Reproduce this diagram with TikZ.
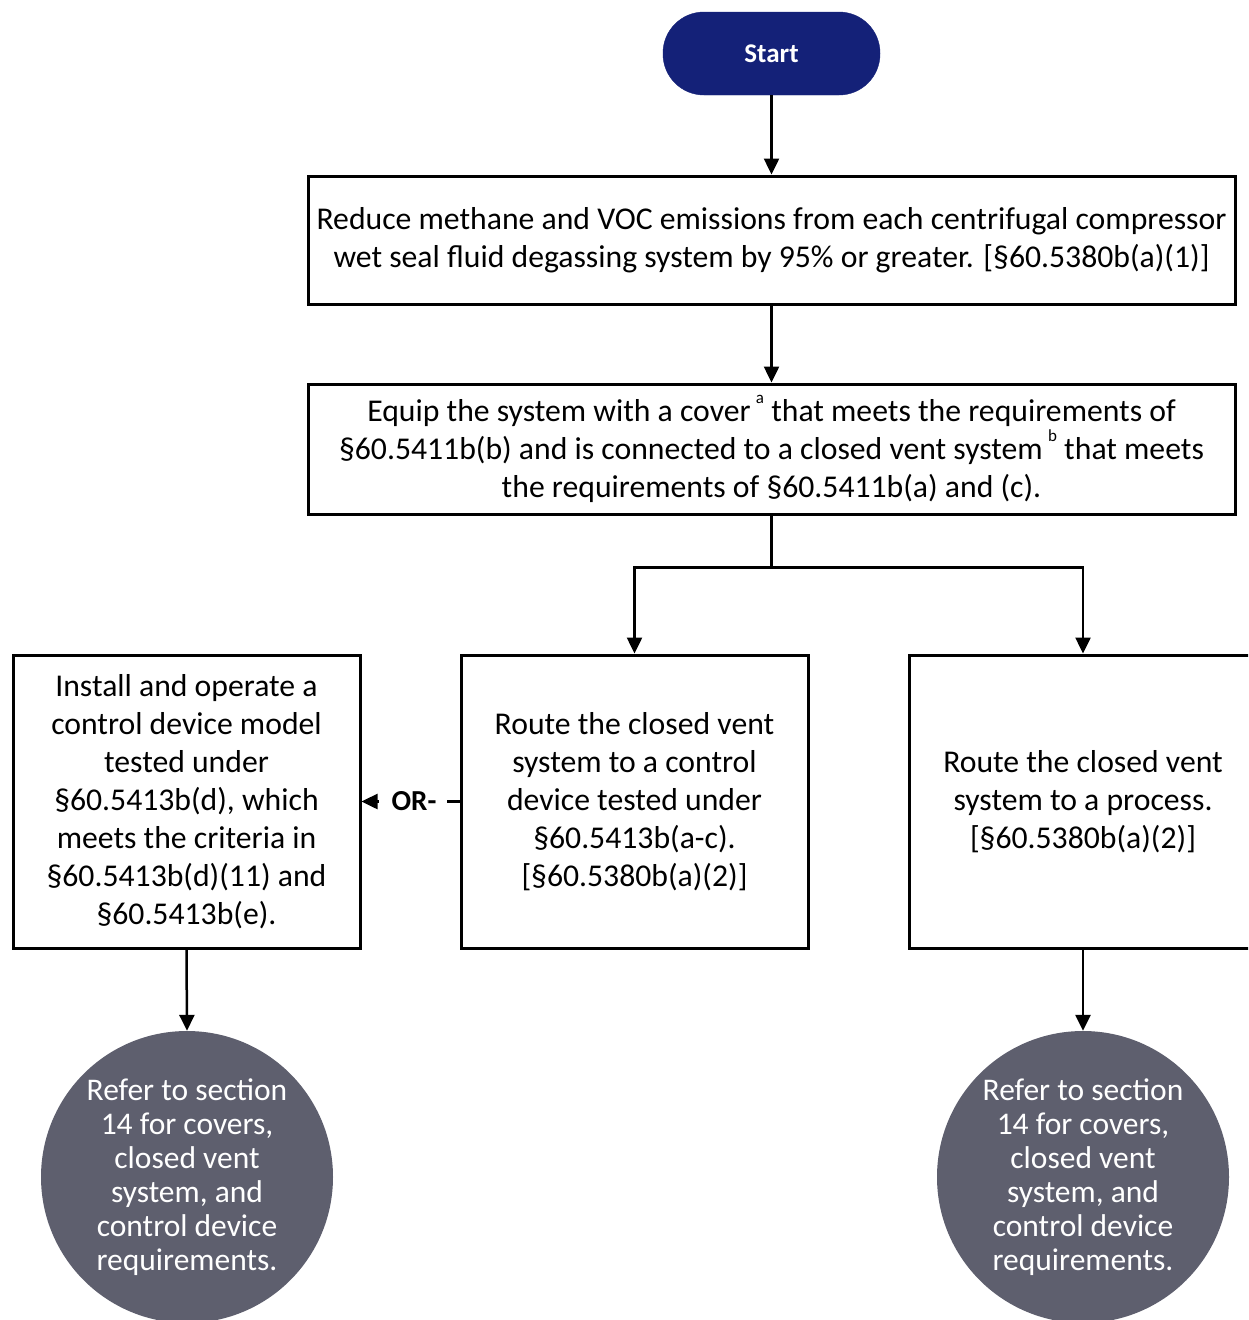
\documentclass[tikz,border=0pt]{standalone}
\usepackage{fontspec}
\setmainfont{Carlito}
\usetikzlibrary{arrows.meta}
\definecolor{navy}{RGB}{20,33,120}
\definecolor{slate}{RGB}{94,95,110}
\newcommand{\noteref}[1]{\,\raisebox{0.55em}{\fontsize{17}{17}\selectfont #1}}
\tikzset{
  startbox/.style={draw=navy, fill=navy, text=white, rounded corners=41pt,
    minimum width=217pt, minimum height=83pt, font=\fontsize{27}{32}\selectfont\bfseries},
  stepbox/.style={draw=black, line width=3pt, fill=white, align=center,
    inner sep=0pt, font=\fontsize{31.7}{38}\selectfont},
  endcircle/.style={circle, fill=slate, text=white, align=center, inner sep=0pt,
    minimum size=292pt, font=\fontsize{31.5}{34}\selectfont},
  arr/.style={line width=2.5pt, -{Triangle[length=16pt,width=15pt]}},
  link/.style={line width=2.5pt},
  orlabel/.style={fill=white, inner ysep=2pt, inner xsep=0pt, minimum width=68pt,
    font=\fontsize{29}{32}\selectfont\bfseries}
}
\begin{document}
\begin{tikzpicture}[x=1pt, y=-1pt]
\clip (0,0) rectangle (1248,1320);
\fill[white] (0,0) rectangle (1248,1320);

\node[startbox] (start) at (771.5,53.5) {Start};

\node[stepbox, minimum width=927pt, minimum height=128pt] (reduce) at (771.5,240)
  {Reduce methane and VOC emissions from each centrifugal compressor\\
   wet seal fluid degassing system by 95\% or greater. {[}§60.5380b(a)(1)]};

\node[stepbox, minimum width=927pt, minimum height=130pt] (equip) at (771.5,449)
  {Equip the system with a cover\noteref{a} that meets the requirements of\\
   §60.5411b(b) and is connected to a closed vent system\noteref{b} that meets\\
   the requirements of §60.5411b(a) and (c).};

\node[stepbox, minimum width=347pt, minimum height=293pt] (install) at (186.5,801.5)
  {Install and operate a\\ control device model\\ tested under\\ §60.5413b(d), which\\
   meets the criteria in\\ §60.5413b(d)(11) and\\ §60.5413b(e).};

\node[stepbox, minimum width=347pt, minimum height=293pt] (device) at (634.5,801.5)
  {Route the closed vent\\ system to a control\\ device tested under\\
   §60.5413b(a-c).\\ {[}§60.5380b(a)(2)]};

\node[stepbox, minimum width=348pt, minimum height=293pt] (process) at (1083,801.5)
  {Route the closed vent\\ system to a process.\\ {[}§60.5380b(a)(2)]};

\node[endcircle] (refleft) at (187,1177)
  {Refer to section\\ 14 for covers,\\ closed vent\\ system, and\\ control device\\ requirements.};
\node[endcircle] (refright) at (1083,1177)
  {Refer to section\\ 14 for covers,\\ closed vent\\ system, and\\ control device\\ requirements.};

% main flow
\draw[arr] (start.south) -- (reduce.north);
\draw[arr] (reduce.south) -- (equip.north);
\draw[link] (equip.south) -- ++(0,52) coordinate (split);
\draw[arr] (split) -| (device.north);
\draw[arr] (split) -| (process.north);
\draw[arr] (device.west) -- (install.east);
\path (device.west) -- node[orlabel, xshift=2pt] (orword) {\hspace{3pt}OR-} (install.east);
\draw[arr] (install.south) -- (refleft.north);
\draw[arr] (process.south) -- (refright.north);
\end{tikzpicture}
\end{document}
